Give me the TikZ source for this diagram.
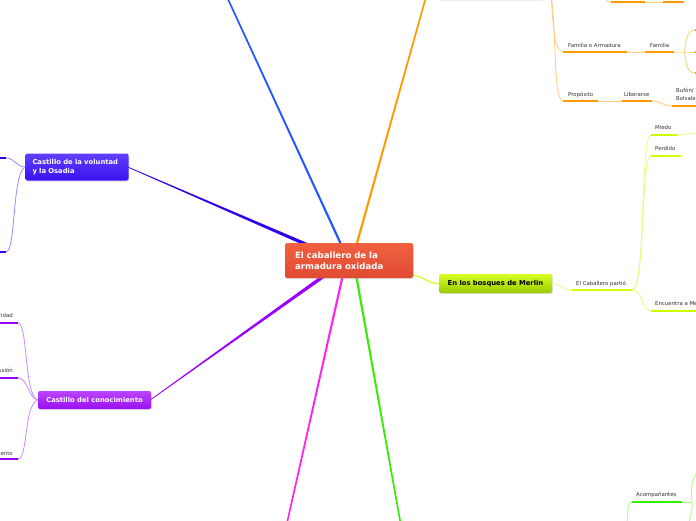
\documentclass[tikz,border=0pt]{standalone}
\usepackage{fontspec}
\setmainfont{DejaVu Sans}
\usetikzlibrary{calc,shadows,backgrounds}
\definecolor{cenT}{HTML}{F0613F}
\definecolor{cenB}{HTML}{E04B33}
\definecolor{ygT}{HTML}{D9FF26}
\definecolor{ygB}{HTML}{99CC00}
\definecolor{ygD}{HTML}{CCFF00}
\definecolor{ygL}{HTML}{E2FF80}
\definecolor{orD}{HTML}{FF9900}
\definecolor{orL}{HTML}{FFCC7A}
\definecolor{inT}{HTML}{6040FF}
\definecolor{inB}{HTML}{3A10F0}
\definecolor{inD}{HTML}{3300EE}
\definecolor{inL}{HTML}{9A88FF}
\definecolor{puT}{HTML}{BB44FF}
\definecolor{puB}{HTML}{9A10F0}
\definecolor{puD}{HTML}{9900FF}
\definecolor{puL}{HTML}{C98AFF}
\definecolor{grD}{HTML}{33EE00}
\definecolor{grL}{HTML}{A6FF88}
\definecolor{blL}{HTML}{2255FF}
\definecolor{mgL}{HTML}{FF22EE}
\definecolor{labgray}{HTML}{333333}
\newcommand\mmtaper[5]{\fill[#1] ($(#2)!#4!90:(#3)$) -- ($(#2)!#4!-90:(#3)$) -- ($(#3)!#5!90:(#2)$) -- ($(#3)!#5!-90:(#2)$) -- cycle;}
\begin{document}
\begin{tikzpicture}[x=1pt,y=-1pt,
  box/.style={rounded corners=2pt, inner sep=0pt, drop shadow={opacity=0.25,shadow xshift=0.8pt,shadow yshift=-1.2pt}},
  bar/.style={line width=2.6pt},
  thin/.style={line width=0.8pt},
  lab/.style={font=\fontsize{5.4}{6}\selectfont, text=labgray, inner sep=0pt, anchor=base west},
  bfont/.style={font=\bfseries\fontsize{6.8}{8.7}\selectfont}]
\useasboundingbox (0,0) rectangle (696,520);
\clip (0,0) rectangle (696,520);

% ---------- main nodes
\node[box, top color=cenT, bottom color=cenB, minimum width=128pt, minimum height=35pt,
      text width=108pt, align=left, text=white, font=\bfseries\fontsize{8.6}{11}\selectfont]
      (center) at (349,260.5) {El caballero de la\\armadura oxidada};
\node[box, top color=ygT, bottom color=ygB, minimum width=113pt, minimum height=19pt,
      text=black, bfont] (merlin) at (495.5,283.5) {En los bosques de Merlin};
\node[box, top color=inT, bottom color=inB, minimum width=103pt, minimum height=27pt,
      text width=89pt, align=left, text=white, bfont] (volun) at (77,167) {Castillo de la voluntad\\y la Osadia};
\node[box, top color=puT, bottom color=puB, minimum width=113pt, minimum height=18pt,
      text=white, bfont] (conoc) at (94.5,400) {Castillo del conocimiento};

% ---------- free ends / anchors
\coordinate (bTop) at (227,-3);
\coordinate (oTop) at (426,-3);
\coordinate (mBot) at (287,523);
\coordinate (gBot) at (400.5,523);
\coordinate (cBl) at ($(center)+(-7,-14)$);
\coordinate (cOr) at ($(center)+(7,-14)$);
\coordinate (cIn) at ($(center)+(-31,-11)$);
\coordinate (cPu) at ($(center)+(-23,14)$);
\coordinate (cMg) at ($(center)+(-6,14)$);
\coordinate (cGr) at ($(center)+(7,14)$);
\coordinate (cYg) at ($(center)+(60,14)$);
\coordinate (volE) at ($(volun.east)+(-1,0)$);
\coordinate (conE) at ($(conoc.east)+(-1,0)$);

\begin{pgfonlayer}{background}
\mmtaper{blL}{bTop}{cBl}{0.8pt}{1.1pt}
\mmtaper{orD}{oTop}{cOr}{0.8pt}{1.1pt}
\mmtaper{inD}{volE}{cIn}{0.35pt}{1.8pt}
\mmtaper{puD}{conE}{cPu}{0.35pt}{1.8pt}
\mmtaper{mgL}{mBot}{cMg}{0.8pt}{1.1pt}
\mmtaper{grD}{gBot}{cGr}{0.8pt}{1.1pt}
\draw[ygD, line width=1pt] (cYg) .. controls (425,276) and (428,284) .. (merlin.west);
\end{pgfonlayer}

% ---------- orange subtree (top right)
\fill[gray!14] (440,-10) rectangle (543,1.2);
\coordinate (oPar) at (551,-6);
\coordinate (oPar2) at (604,-6);
\coordinate (t1a) at (611,2); \coordinate (t1b) at (645,2);
\coordinate (t2a) at (663,2); \coordinate (t2b) at (684,2);
\coordinate (fAa) at (563,52); \coordinate (fAb) at (627,52);
\coordinate (faa) at (645,52); \coordinate (fab) at (674,52);
\coordinate (fj) at (684,52);
\coordinate (fr1) at (694.5,30); \coordinate (fr2) at (694.5,52); \coordinate (fr3) at (694.5,73);
\coordinate (pra) at (563,101); \coordinate (prb) at (598,101);
\coordinate (lia) at (622,101); \coordinate (lib) at (652,101);
\coordinate (bua) at (672,106); \coordinate (bub) at (698,106);
\draw[orL, thin] (oPar) .. controls (553,20) and (553,50) .. (fAa);
\draw[orL, thin] (oPar) .. controls (557,40) and (553,99) .. (pra);
\draw[orL, thin] (oPar2) .. controls (606,1) and (607,2) .. (t1a);
\draw[orL, thin] (t1b) -- (t2a);
\draw[orD, bar] (t1a) -- (t1b);
\draw[orD, bar] (t2a) -- (t2b);
\draw[orD, bar] (fAa) -- (fAb);
\draw[orL, thin] (fAb) -- (faa);
\draw[orD, bar] (faa) -- (fab);
\draw[orL, thin] (fab) -- (fj) -- (fr2);
\draw[orL, thin] (fj) .. controls (686,52) and (684,30) .. (fr1);
\draw[orL, thin] (fj) .. controls (686,52) and (684,73) .. (fr3);
\foreach \c in {fr1,fr2,fr3} \draw[orD, bar] (\c) -- ++(4,0);
\draw[orD, bar] (pra) -- (prb);
\draw[orL, thin] (prb) -- (lia);
\draw[orD, bar] (lia) -- (lib);
\draw[orL, thin] (lib) .. controls (662,101) and (662,106) .. (bua);
\draw[orD, bar] (bua) -- (bub);
\node[lab] (lFA) at (568,47) {Familia o Armadura};
\node[lab] (lFa) at (650,47) {Familia};
\node[lab] (lPr) at (568,96) {Propósito};
\node[lab] (lLi) at (624,96) {Liberarse};
\node[lab] (lBu) at (676,92.5) {Bufón/};
\node[lab] (lBo) at (676,100) {Bolsale};

% ---------- Merlin subtree
\coordinate (eca) at (572,290); \coordinate (ecb) at (632,290);
\coordinate (mia) at (651,135); \coordinate (mib) at (677,135); \coordinate (mic) at (697,133);
\coordinate (pea) at (651,156); \coordinate (peb) at (681,156);
\coordinate (ena) at (651,311); \coordinate (enb) at (698,311);
\draw[ygL, thin] (merlin.east) .. controls (562,284) and (562,290) .. (eca);
\draw[ygL, thin] (ecb) .. controls (646,290) and (640,135) .. (mia);
\draw[ygL, thin] (ecb) .. controls (646,290) and (640,156) .. (pea);
\draw[ygL, thin] (ecb) .. controls (644,290) and (641,311) .. (ena);
\draw[ygL, thin] (mib) -- (mic);
\draw[ygD, bar] (eca) -- (ecb);
\draw[ygD, bar] (mia) -- (mib);
\draw[ygD, bar] (pea) -- (peb);
\draw[ygD, bar] (ena) -- (enb);
\node[lab] (lEC) at (576,285) {El Caballero partió};
\node[lab] (lMi) at (655,129.5) {Miedo};
\node[lab] (lPe) at (655,150.5) {Perdido};
\node[lab] (lEn) at (655,305.5) {Encuentra a Merlín};

% ---------- voluntad subtree
\coordinate (v1a) at (-3,158); \coordinate (v1b) at (6,158);
\coordinate (v2a) at (-3,252); \coordinate (v2b) at (6,252);
\draw[inL, thin] (v1b) .. controls (15,158) and (16,167) .. (volun.west);
\draw[inL, thin] (v2b) .. controls (16,252) and (12,172) .. (volun.west);
\draw[inD, bar] (v1a) -- (v1b);
\draw[inD, bar] (v2a) -- (v2b);

% ---------- conocimiento subtree
\coordinate (k1a) at (-3,323); \coordinate (k1b) at (18,323);
\coordinate (k2a) at (-3,378); \coordinate (k2b) at (18,378);
\coordinate (k3a) at (-3,459); \coordinate (k3b) at (18,459);
\draw[puL, thin] (k1b) .. controls (28,323) and (24,396) .. (conoc.west);
\draw[puL, thin] (k2b) .. controls (28,378) and (28,398) .. (conoc.west);
\draw[puL, thin] (k3b) .. controls (28,459) and (24,404) .. (conoc.west);
\draw[puD, bar] (k1a) -- (k1b);
\draw[puD, bar] (k2a) -- (k2b);
\draw[puD, bar] (k3a) -- (k3b);
\node[lab, anchor=base east] (lRi) at (13,317) {ridad};
\node[lab, anchor=base east] (lUs) at (13,372) {usión};
\node[lab, anchor=base east] (lIe) at (13,455) {iento};

% ---------- green subtree (bottom right)
\coordinate (g0) at (627,523);
\coordinate (aca) at (632,502); \coordinate (acb) at (682,502);
\coordinate (gj) at (692,502);
\coordinate (gu) at (698,472); \coordinate (gd) at (689,523);
\draw[grL, thin] (g0) .. controls (628,508) and (628,502) .. (aca);
\draw[grL, thin] (acb) -- (gj);
\draw[grL, thin] (gu) .. controls (690,480) and (691,495) .. (gj) .. controls (693,510) and (690,515) .. (gd);
\draw[grD, bar] (aca) -- (acb);
\node[lab] (lAc) at (636,496.5) {Acompañantes};
\end{tikzpicture}
\end{document}
